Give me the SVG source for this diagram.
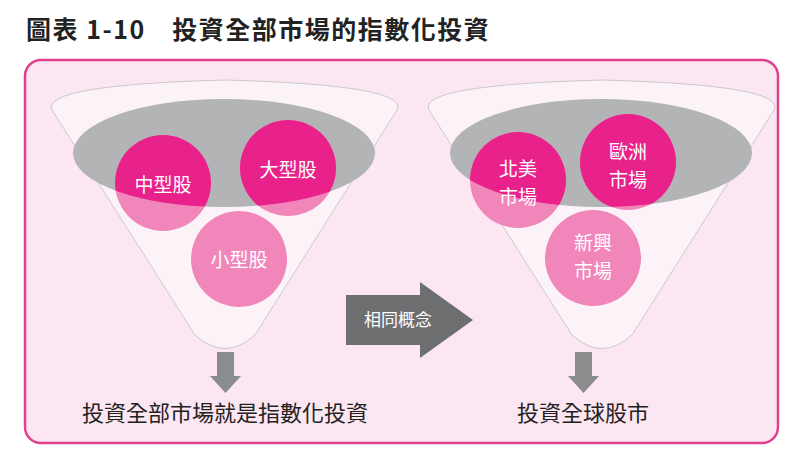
<svg xmlns="http://www.w3.org/2000/svg" width="800" height="461" viewBox="0 0 800 461">
<style>
.t{font-family:"Noto Sans CJK TC","Noto Sans CJK SC",sans-serif}
.c{fill:#fff;font-size:19px;text-anchor:middle}
.lab{fill:#222;font-size:22px;text-anchor:middle}
</style>
<defs>
<path id="funnel" d="M52 110 Q40 85 225 80 Q410 85 397 110 L255 335 Q225 362 195 335 Z"/>
<clipPath id="e1"><ellipse cx="224" cy="153" rx="151" ry="54"/></clipPath>
<clipPath id="e2"><ellipse cx="601" cy="153" rx="151" ry="54"/></clipPath>
</defs>
<rect width="800" height="461" fill="#fff"/>
<text class="t" x="26" y="39" font-size="25" font-weight="bold" fill="#222" letter-spacing="1.5">圖表 1-10　投資全部市場的指數化投資</text>
<rect x="25" y="60" width="753" height="383" rx="16" fill="#fce6f1" stroke="#e2408f" stroke-width="2.5"/>
<g id="left">
<use href="#funnel" fill="#fcf3f9" stroke="#c9c9c9" stroke-width="1"/>
<ellipse cx="224" cy="153" rx="151" ry="54" fill="#b2b4b6"/>
<circle cx="163" cy="183" r="48" fill="#f086ba"/>
<circle cx="288" cy="168" r="48" fill="#f086ba"/>
<circle cx="239" cy="259" r="48" fill="#f086ba"/>
<g clip-path="url(#e1)"><circle cx="163" cy="183" r="48" fill="#e8228a"/><circle cx="288" cy="168" r="48" fill="#e8228a"/></g>
<text class="t c" x="163" y="192">中型股</text>
<text class="t c" x="288" y="177">大型股</text>
<text class="t c" x="239" y="267">小型股</text>
</g>
<g id="right" >
<use href="#funnel" transform="translate(377 0)" fill="#fcf3f9" stroke="#c9c9c9" stroke-width="1"/>
<ellipse cx="601" cy="153" rx="151" ry="54" fill="#b2b4b6"/>
<circle cx="518" cy="180" r="48" fill="#f086ba"/>
<circle cx="628" cy="162" r="48" fill="#f086ba"/>
<circle cx="593" cy="258" r="48" fill="#f086ba"/>
<g clip-path="url(#e2)"><circle cx="518" cy="180" r="48" fill="#e8228a"/><circle cx="628" cy="162" r="48" fill="#e8228a"/></g>
<text class="t c" x="518" y="176">北美</text><text class="t c" x="518" y="204">市場</text>
<text class="t c" x="628" y="159">歐洲</text><text class="t c" x="628" y="187">市場</text>
<text class="t c" x="593" y="250">新興</text><text class="t c" x="593" y="278">市場</text>
</g>
<g id="connectors" fill="#8b8c8e">
<path d="M346 295 H420 V282 L473 320 L420 358 V345 H346 Z" fill="#6d6e70"/>
<path d="M217 352 H234 V376 H241 L225.5 393 L210 376 H217 Z"/>
<path d="M575 352 H592 V376 H599 L583.5 393 L568 376 H575 Z"/>
</g>
<text class="t" x="398" y="326" font-size="17" fill="#fff" text-anchor="middle">相同概念</text>
<text class="t lab" x="225" y="421">投資全部市場就是指數化投資</text>
<text class="t lab" x="583" y="421">投資全球股市</text>
</svg>
